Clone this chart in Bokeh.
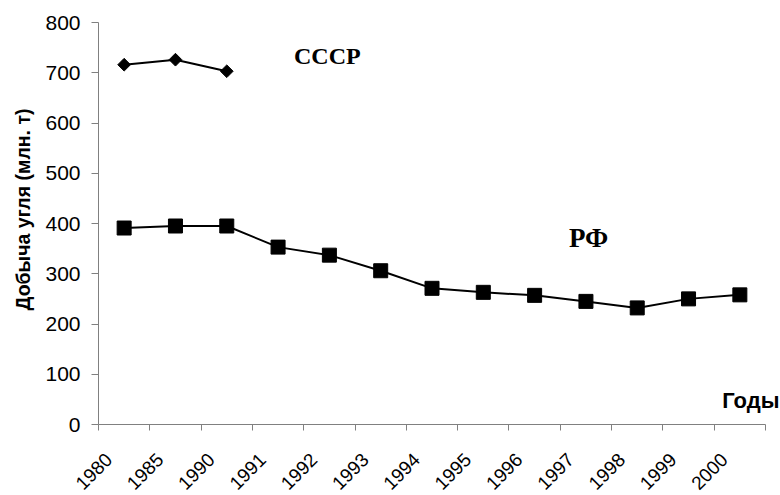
import math
from bokeh.plotting import figure
from bokeh.models import FixedTicker, Label, Range1d
from bokeh.embed import file_html
from bokeh.resources import INLINE

years = ["1980", "1985", "1990", "1991", "1992", "1993", "1994",
         "1995", "1996", "1997", "1998", "1999", "2000"]
rf_values = [391, 395, 395, 353, 337, 306, 271, 263, 257, 245, 232, 250, 258]
ussr_years = ["1980", "1985", "1990"]
ussr_values = [716, 726, 703]
y_ticks = [0, 100, 200, 300, 400, 500, 600, 700, 800]
y_title = "Добыча угля (млн. т)"

n = len(years)
pos = {yr: i + 0.5 for i, yr in enumerate(years)}
rf_x = [pos[y] for y in years]
ussr_x = [pos[y] for y in ussr_years]

# layout constants (pixels): the frame fills the whole canvas, the axes sit
# at fixed data locations so that their labels are free to use the margins
W, H = 780, 495
ORIGIN_X, ORIGIN_Y = 98, 424        # pixel position of the axes' crossing
AXIS_PX = 667                       # pixel length of the category axis
Y_AXIS_PX = 402                     # pixel length of the value axis
y_top = y_ticks[-1]
ux = AXIS_PX / n
uy = Y_AXIS_PX / y_top
x_range = Range1d(-ORIGIN_X / ux, (W - ORIGIN_X) / ux)
y_range = Range1d(-(H - ORIGIN_Y) / uy, ORIGIN_Y / uy)
LABEL_SHIFT = -0.3                  # rotated labels sit left of category centre

AX = "#808080"
SANS = "Liberation Sans"

p = figure(width=W, height=H, x_range=x_range, y_range=y_range,
           output_backend="svg", toolbar_location=None,
           min_border_left=0, min_border_right=0,
           min_border_top=0, min_border_bottom=0)
p.outline_line_color = None
p.xgrid.visible = False
p.ygrid.visible = False

label_pos = [x + LABEL_SHIFT for x in rf_x]
xa = p.xaxis[0]
xa.fixed_location = 0
xa.bounds = (0, n)
xa.ticker = FixedTicker(ticks=label_pos, minor_ticks=list(range(n + 1)))
xa.major_label_overrides = {x: yr for x, yr in zip(label_pos, years)}
xa.major_label_orientation = math.pi / 4
xa.major_tick_line_color = None
xa.major_tick_out = 6
xa.major_tick_in = 0
xa.minor_tick_line_color = AX
xa.minor_tick_out = 6
xa.minor_tick_in = 0
xa.axis_line_color = AX
xa.major_label_text_font = SANS
xa.major_label_text_font_size = "19px"
xa.major_label_text_color = "black"
xa.major_label_standoff = 26

ya = p.yaxis[0]
ya.fixed_location = 0
ya.bounds = (0, y_top)
ya.ticker = FixedTicker(ticks=y_ticks)
ya.major_tick_out = 7
ya.major_tick_in = 0
ya.minor_tick_line_color = None
ya.major_tick_line_color = AX
ya.axis_line_color = AX
ya.major_label_text_font = SANS
ya.major_label_text_font_size = "21px"
ya.major_label_text_color = "black"
ya.major_label_standoff = 11

p.line(rf_x, rf_values, line_color="black", line_width=2)
p.scatter(rf_x, rf_values, marker="square", size=14, color="black")
p.line(ussr_x, ussr_values, line_color="black", line_width=2)
p.scatter(ussr_x, ussr_values, marker="square", angle=math.pi / 4, size=9, color="black")

# value-axis title, placed where the reference has it
p.add_layout(Label(x=22, y=H - 209, x_units="screen", y_units="screen",
                   text=y_title, angle=math.pi / 2, text_font=SANS,
                   text_font_style="bold", text_font_size="19.5px",
                   text_align="center", text_baseline="middle", text_color="black"))
p.add_layout(Label(x=4.46, y=733, text="СССР", text_font="Liberation Serif",
                   text_font_style="bold", text_font_size="24px",
                   text_align="center", text_baseline="middle", text_color="black"))
p.add_layout(Label(x=9.55, y=372, text="РФ", text_font="Liberation Serif",
                   text_font_style="bold", text_font_size="27px",
                   text_align="center", text_baseline="middle", text_color="black"))
p.add_layout(Label(x=x_range.end, y=48, x_offset=-1, text="Годы", text_font=SANS,
                   text_font_style="bold", text_font_size="22px",
                   text_align="right", text_baseline="middle", text_color="black"))

open("out.html", "w").write(file_html(p, INLINE))
